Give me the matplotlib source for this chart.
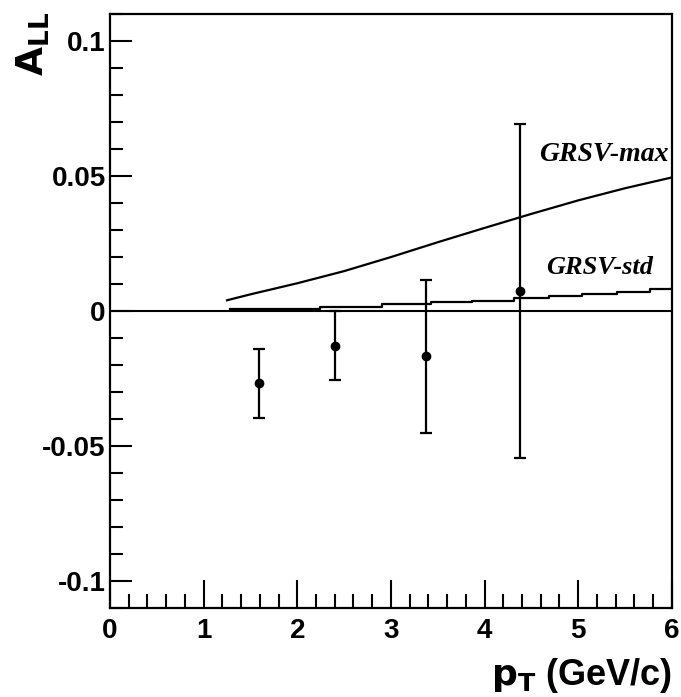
import matplotlib
matplotlib.use("Agg")
import matplotlib.pyplot as plt
from matplotlib.ticker import MultipleLocator

# measured asymmetry
pt = [1.59, 2.40, 3.38, 4.38]
all_vals = [-0.0268, -0.0128, -0.0168, 0.0074]
all_err = [0.0129, 0.0129, 0.0283, 0.0620]

# GRSV-max prediction
max_x = [1.25, 1.5, 2.0, 2.5, 3.0, 3.5, 4.0, 4.5, 5.0, 5.5, 6.0]
max_y = [0.0040, 0.0062, 0.0103, 0.0148, 0.0200, 0.0255, 0.0308, 0.0360, 0.0410, 0.0455, 0.0495]

# GRSV-std prediction
std_x = [1.28, 2.24, 2.90, 3.43, 3.87, 4.32, 4.69, 5.04, 5.41, 5.77, 6.0]
std_y = [0.0006, 0.0015, 0.0025, 0.0032, 0.0039, 0.0048, 0.0055, 0.0063, 0.0071, 0.0081, 0.0085]

plt.rcParams['font.family'] = ['Liberation Sans', 'DejaVu Sans']

fig = plt.figure(figsize=(6.81, 6.97), dpi=100)
ax = fig.add_axes([0.1615, 0.1277, 0.825, 0.852])

ax.axhline(0, color='black', lw=1.5)
ax.plot(max_x, max_y, color='black', lw=1.6)
ax.step(std_x, std_y, where='post', color='black', lw=1.6)
ax.errorbar(pt, all_vals, yerr=all_err, fmt='o', color='black', ms=6,
            elinewidth=1.6, capsize=4, capthick=1.6)

ax.text(4.58, 0.058, 'GRSV-max', family='Liberation Serif', style='italic',
        fontweight='bold', fontsize=20, va='center', ha='left', clip_on=True)
ax.text(4.66, 0.0162, 'GRSV-std', family='Liberation Serif', style='italic',
        fontweight='bold', fontsize=19, va='center', ha='left')

ax.set_xlim(0, 6)
ax.set_ylim(-0.11, 0.11)
ax.xaxis.set_major_locator(MultipleLocator(1))
ax.xaxis.set_minor_locator(MultipleLocator(0.2))
ax.yaxis.set_major_locator(MultipleLocator(0.05))
ax.yaxis.set_minor_locator(MultipleLocator(0.01))
ax.set_yticks([-0.1, -0.05, 0, 0.05, 0.1])
ax.set_yticklabels(['-0.1', '-0.05', '0', '0.05', '0.1'])

ax.tick_params(axis='x', which='major', direction='in', length=20, width=1.5,
               labelsize=20, pad=7)
ax.tick_params(axis='x', which='minor', direction='in', length=10, width=1.5)
ax.tick_params(axis='y', which='major', direction='in', length=16, width=1.5,
               labelsize=20, pad=3)
ax.tick_params(axis='y', which='minor', direction='in', length=9, width=1.5)
for lab in ax.get_xticklabels() + ax.get_yticklabels():
    lab.set_fontweight('bold')
for s in ax.spines.values():
    s.set_linewidth(1.6)

fig.text(0.987, 0.003, r'$\mathbf{p_T}$ (GeV/c)', ha='right', va='bottom',
         fontsize=26, fontweight='bold')
fig.text(0.022, 1 - 12 / 697, r'$\mathbf{A_{LL}}$', ha='left', va='top',
         rotation=90, fontsize=27, fontweight='bold')

fig.savefig('out.png', dpi=100)
